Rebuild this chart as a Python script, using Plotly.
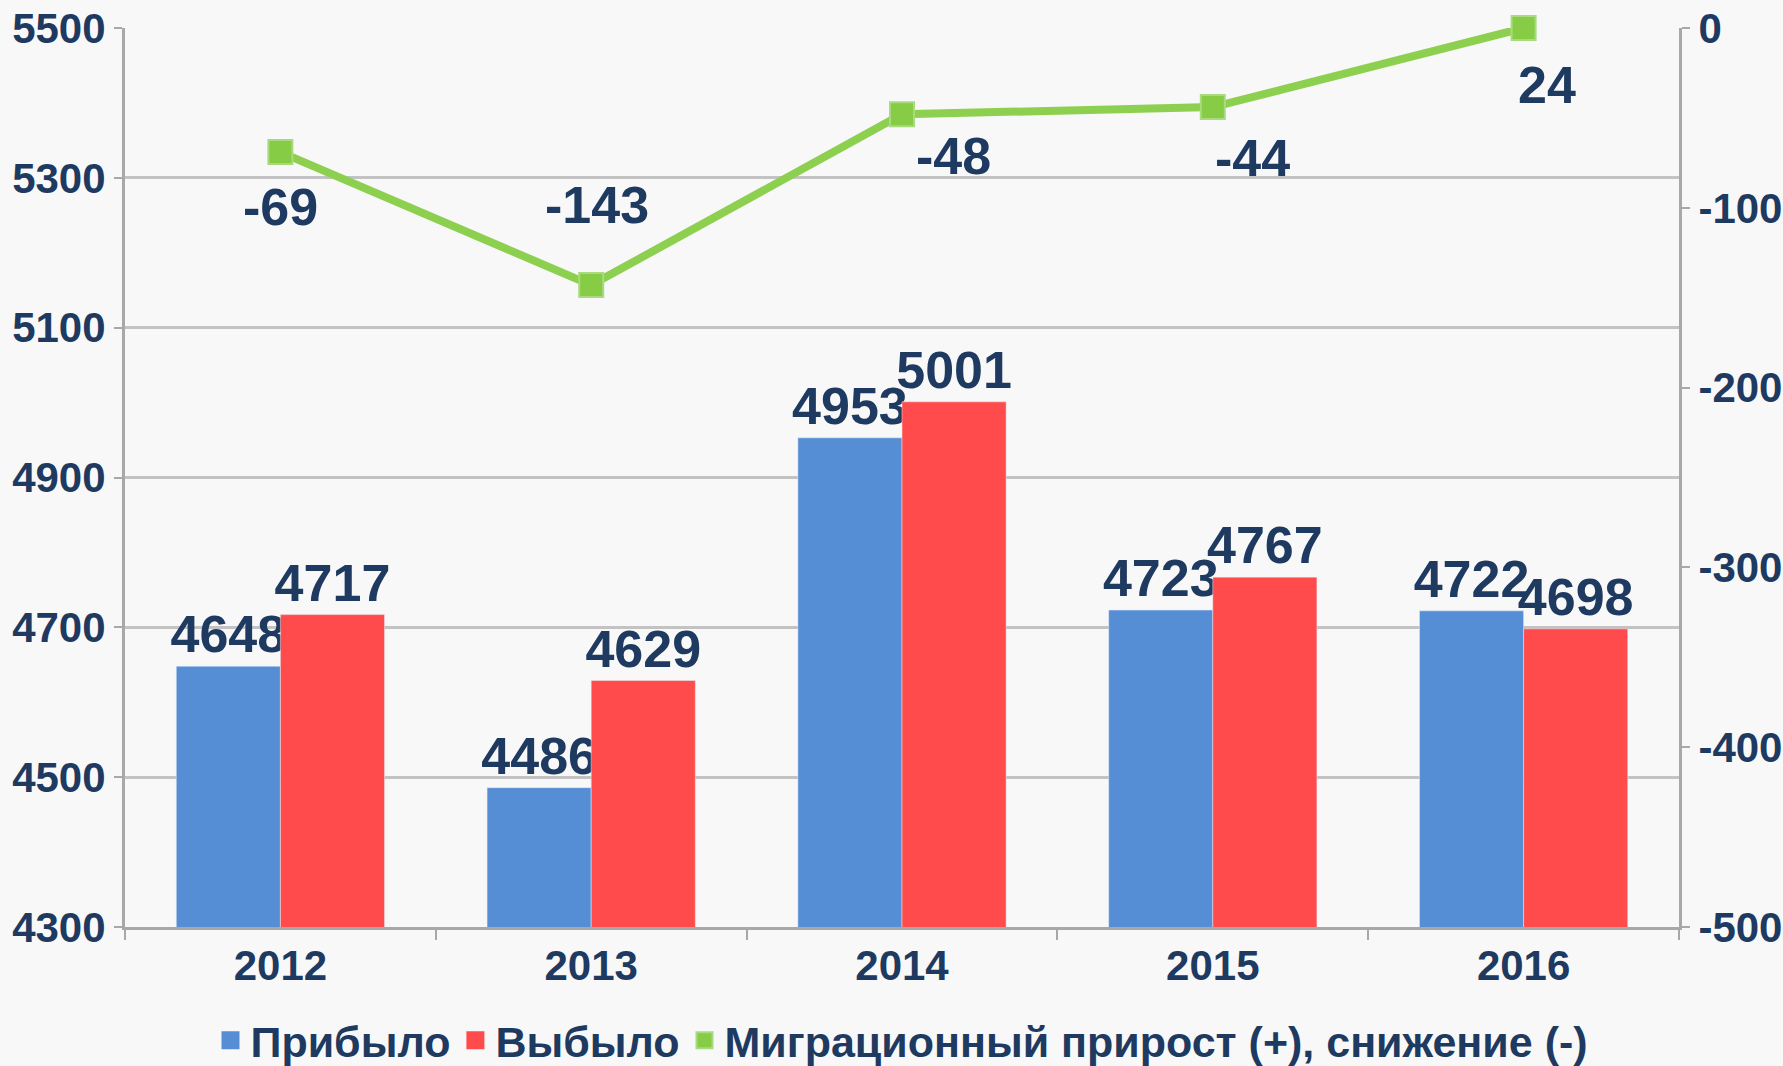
import plotly.graph_objects as go

years = ["2012", "2013", "2014", "2015", "2016"]
arrived = [4648, 4486, 4953, 4723, 4722]
departed = [4717, 4629, 5001, 4767, 4698]
migration = [-69, -143, -48, -44, 24]

left_ticks = [4300, 4500, 4700, 4900, 5100, 5300, 5500]
right_ticks = [-500, -400, -300, -200, -100, 0]

# the original chart clips values above the right axis maximum (0) to the axis edge
line_y = [min(v, 0) for v in migration]

TEXT = "#1F3A60"
FONT = "Liberation Sans"
BG = "#F8F8F8"
GRID = "#C3C3C3"
AXIS = "#A8A8A8"
BLUE = "#558ED5"
RED = "#FF4B4B"
GREEN = "#86CC45"

names = ["Прибыло", "Выбыло", "Миграционный прирост (+), снижение (-)"]

fig = go.Figure()
fig.add_trace(go.Bar(
    x=years, y=arrived, name=names[0], marker=dict(color=BLUE), showlegend=False,
    text=[str(v) for v in arrived], textposition="outside", constraintext="none",
    textfont=dict(family=FONT, size=52, color=TEXT, weight="bold"), cliponaxis=False,
))
fig.add_trace(go.Bar(
    x=years, y=departed, name=names[1], marker=dict(color=RED), showlegend=False,
    text=[str(v) for v in departed], textposition="outside", constraintext="none",
    textfont=dict(family=FONT, size=52, color=TEXT, weight="bold"), cliponaxis=False,
))
fig.add_trace(go.Scatter(
    x=years, y=line_y, yaxis="y2", mode="lines+markers", showlegend=False,
    line=dict(color="#8DCF4F", width=8),
    marker=dict(symbol="square", size=24, color=GREEN, line=dict(color="#A9DA80", width=2)),
    cliponaxis=False,
))
# legend-only entries showing square swatches, as in the original legend
for nm, col, edge in zip(names, [BLUE, RED, GREEN], [BLUE, RED, "#A9DA80"]):
    fig.add_trace(go.Scatter(
        x=[years[0]], y=[None], yaxis="y2", mode="markers", name=nm,
        marker=dict(symbol="square", size=20, color=col, line=dict(color=edge, width=2)),
    ))

xshifts = [0, 6, 51, 40, 23]
yshifts = [-55, 80, -42, -51, -57]
for i, (ly, v, xs, ys) in enumerate(zip(line_y, migration, xshifts, yshifts)):
    # x given as category index of years[i]
    fig.add_annotation(x=i, y=ly, xref="x", yref="y2", text=str(v), showarrow=False,
                       xshift=xs, yshift=ys,
                       font=dict(family=FONT, size=52, color=TEXT, weight="bold"))

fig.update_layout(
    width=1783, height=1066,
    paper_bgcolor=BG, plot_bgcolor=BG,
    margin=dict(l=125, r=104, t=28, b=139, autoexpand=False),
    barmode="group", bargap=0.33, bargroupgap=0,
    font=dict(family=FONT, color=TEXT),
    xaxis=dict(
        type="category", categoryorder="array", categoryarray=years,
        range=[-0.5, len(years) - 0.5], autorange=False, automargin=False,
        showgrid=False, showline=True, linecolor=AXIS, linewidth=3,
        ticks="outside", tickson="boundaries", ticklen=10, tickwidth=2, tickcolor=AXIS,
        tickangle=0,
        tickfont=dict(family=FONT, size=42, color=TEXT, weight="bold"),
    ),
    yaxis=dict(
        range=[4300, 5500], tickvals=left_ticks, ticktext=[str(v) for v in left_ticks],
        automargin=False,
        showgrid=True, gridcolor=GRID, gridwidth=3,
        showline=True, linecolor=AXIS, linewidth=3, zeroline=False,
        ticks="outside", ticklen=8, tickwidth=2, tickcolor=AXIS,
        tickfont=dict(family=FONT, size=42, color=TEXT, weight="bold"),
    ),
    yaxis2=dict(
        range=[-500, 0], tickvals=right_ticks, ticktext=[str(v) for v in right_ticks],
        overlaying="y", side="right", automargin=False,
        showgrid=False, showline=True, linecolor=AXIS, linewidth=3, zeroline=False,
        ticks="outside", ticklen=8, tickwidth=2, tickcolor=AXIS,
        tickfont=dict(family=FONT, size=42, color=TEXT, weight="bold"),
    ),
    legend=dict(
        orientation="h", x=0.5, xanchor="center", y=-0.126, yanchor="middle",
        font=dict(family=FONT, size=43, color=TEXT, weight="bold"),
        itemwidth=30, bgcolor="rgba(0,0,0,0)",
    ),
)

fig.write_html("out.html", config={"displayModeBar": False},
               post_script="document.body.style.margin='0';")
